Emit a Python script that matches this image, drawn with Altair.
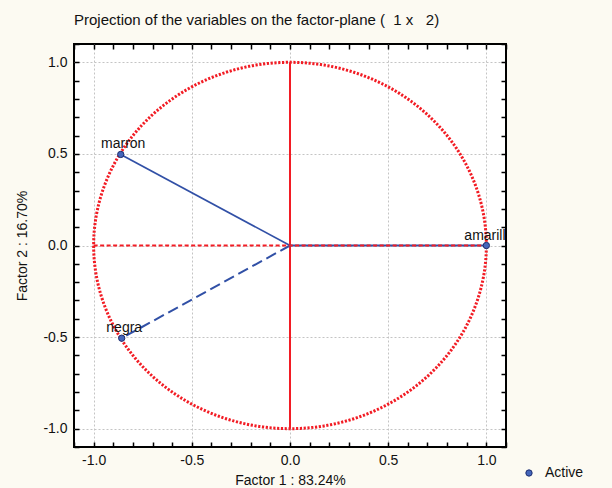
import altair as alt
import pandas as pd

# ---- data ----
variables = ["marron", "negra", "amarilla"]
factor1 = [-0.862, -0.857, 1.0]
factor2 = [0.497, -0.506, 0.0]
var_type = ["Active", "Active", "Active"]

tick_values = [-1.1, -1.0, -0.9, -0.8, -0.7, -0.6, -0.5, -0.4, -0.3, -0.2, -0.1,
               0.0, 0.1, 0.2, 0.3, 0.4, 0.5, 0.6, 0.7, 0.8, 0.9, 1.0, 1.1]

# reference lines (axes through the origin)
vline_x = [0.0]
vline_y = [-1.0]
vline_y2 = [1.0]
hline_x = [-1.0]
hline_x2 = [1.0]
hline_y = [0.0]

FONT = "Liberation Sans"
FS = 14
RED = "#F21C24"
BLUE = "#3150A6"

pts = pd.DataFrame({"var": variables, "f1": factor1, "f2": factor2, "type": var_type})
seg_rows = []
for v, a, b in zip(variables, factor1, factor2):
    seg_rows.append({"var": v, "f1": 0.0, "f2": 0.0, "o": 0})
    seg_rows.append({"var": v, "f1": a, "f2": b, "o": 1})
segs = pd.DataFrame(seg_rows)

dom = [-1.1, 1.1]
major_test = "abs(datum.value*2 - round(datum.value*2)) < 0.001"
label_expr = f"{major_test} ? replace(format(datum.value, '.1f'), '\u2212', '-') : ''"
grid_op = {"condition": {"test": major_test, "value": 1}, "value": 0}

xs = alt.Scale(domain=dom, nice=False, zero=False)
ys = alt.Scale(domain=dom, nice=False, zero=False)

x_axis = alt.Axis(orient="bottom", values=tick_values, labelExpr=label_expr,
                  offset=-5, tickSize=5, tickColor="black", tickWidth=1.5, ticks=True,
                  domain=False, grid=True, gridOpacity=grid_op, gridColor="#C4C4C4",
                  gridDash=[2, 2], labelPadding=6, labelFlush=False, labelOverlap=False,
                  labelFont=FONT, labelFontSize=FS, labelColor="#111",
                  title="Factor 1 : 83.24%", titleFont=FONT, titleFontSize=FS,
                  titleFontWeight="normal", titleColor="#111", titlePadding=6)
y_axis = alt.Axis(orient="left", values=tick_values, labelExpr=label_expr,
                  offset=-5, tickSize=5, tickColor="black", tickWidth=1.5, ticks=True,
                  domain=False, grid=True, gridOpacity=grid_op, gridColor="#C4C4C4",
                  gridDash=[2, 2], labelPadding=7, labelFlush=False, labelOverlap=False,
                  labelFont=FONT, labelFontSize=FS, labelColor="#111",
                  title="Factor 2 : 16.70%", titleFont=FONT, titleFontSize=FS,
                  titleFontWeight="normal", titleColor="#111", titlePadding=13)
x_top = alt.Axis(orient="top", values=tick_values, labels=False, offset=-5, tickSize=5,
                 tickColor="black", tickWidth=1.5, domain=False, grid=False, title=None)
y_right = alt.Axis(orient="right", values=tick_values, labels=False, offset=-5, tickSize=5,
                   tickColor="black", tickWidth=1.5, domain=False, grid=False, title=None)


def X(field):
    return alt.X(field, scale=xs, axis=x_axis)


def Y(field):
    return alt.Y(field, scale=ys, axis=y_axis)


base = alt.Chart(segs)

# unit circle (correlation circle)
circle = alt.Chart(alt.sequence(0, 361, 1, as_="deg")).transform_calculate(
    cx="cos(datum.deg*PI/180)", cy="sin(datum.deg*PI/180)"
).mark_line(color=RED, strokeWidth=3, strokeDash=[2.2, 1.6]).encode(
    x=X("cx:Q"), y=Y("cy:Q"), order="deg:Q")

vline = alt.Chart(pd.DataFrame({"x": vline_x, "y": vline_y, "y2": vline_y2})).mark_rule(
    color=RED, strokeWidth=2).encode(x=X("x:Q"), y=Y("y:Q"), y2="y2:Q")

line_m = base.transform_filter("datum.var == 'marron'").mark_line(color=BLUE, strokeWidth=1.7).encode(
    x=X("f1:Q"), y=Y("f2:Q"), order="o:Q")
line_n = base.transform_filter("datum.var == 'negra'").mark_line(
    color=BLUE, strokeWidth=2, strokeDash=[11, 5]).encode(
    x=X("f1:Q"), y=Y("f2:Q"), order="o:Q")
line_a = base.transform_filter("datum.var == 'amarilla'").mark_line(color=BLUE, strokeWidth=2).encode(
    x=X("f1:Q"), y=Y("f2:Q"), order="o:Q")

hline = alt.Chart(pd.DataFrame({"x": hline_x, "x2": hline_x2, "y": hline_y})).mark_rule(
    color=RED, strokeWidth=2, strokeDash=[4, 2.5]).encode(
    x=X("x:Q"), x2="x2:Q", y=Y("y:Q"))

points = alt.Chart(pts).mark_point(filled=True, size=40, opacity=1, stroke="#1E2E70",
                                   strokeWidth=1).encode(
    x=X("f1:Q"), y=Y("f2:Q"),
    color=alt.Color("type:N", scale=alt.Scale(domain=["Active"], range=["#4466BB"]),
                    legend=alt.Legend(title=None, orient="none", legendX=448, legendY=422,
                                      labelFont=FONT, labelFontSize=FS, labelColor="#111",
                                      symbolType="circle", symbolSize=40, symbolStrokeColor="#1E2E70",
                                      symbolStrokeWidth=1, padding=0, labelOffset=9)),
)

labels = alt.Chart(pts).mark_text(font=FONT, fontSize=FS, color="#111", align="center",
                                  baseline="alphabetic", dx=2.5, dy=-6, clip=True).encode(
    x=X("f1:Q"), y=Y("f2:Q"), text="var:N")

main = alt.layer(circle, vline, line_m, line_n, line_a, hline, points, labels)

frame = alt.Chart(pts).mark_point(opacity=0).encode(
    x=alt.X("f1:Q", scale=xs, axis=x_top), y=alt.Y("f2:Q", scale=ys, axis=y_right))

chart = alt.layer(main, frame).resolve_axis(x="independent", y="independent").properties(
    width=432, height=403,
    padding={"left": 74, "top": 44, "right": 106, "bottom": 41},
    autosize=alt.AutoSizeParams(type="none"),
    background="#FCFAF2",
    title=alt.TitleParams("Projection of the variables on the factor-plane (\u00a0 1 x \u00a0 2)",
                          anchor="start", frame="group", font=FONT, fontSize=15,
                          fontWeight="normal", color="#111", offset=9),
).configure_view(stroke="black", strokeWidth=2, fill="white")

chart.save("out.html", embed_options={"renderer": "svg", "actions": False})
